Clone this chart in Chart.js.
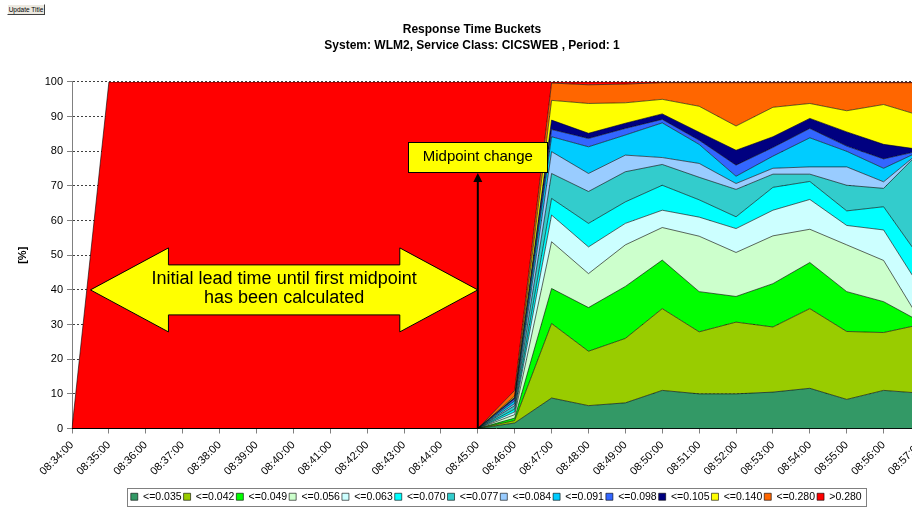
<!DOCTYPE html>
<html>
<head>
<meta charset="utf-8">
<title>Response Time Buckets</title>
<script src="https://cdn.jsdelivr.net/npm/chart.js@4.4.1/dist/chart.umd.min.js"></script>
<style>
  html, body { margin: 0; padding: 0; overflow: hidden; background: #fff; }
  #wrap { position: relative; width: 912px; height: 509px; overflow: hidden; }
  #rt-chart { position: absolute; left: 0; top: 0; }
  #update-title {
    position: absolute; left: 7px; top: 4px; width: 38px; height: 11px;
    padding: 0; margin: 0; font: 6.5px Arial, "Liberation Sans", sans-serif; line-height: 9px;
    white-space: nowrap; overflow: hidden;
    background: #ece9e0; color: #000; border: 1px solid; border-color: #fff #404040 #404040 #fff;
  }
</style>
</head>
<body>
<div id="wrap">
  <canvas id="rt-chart" width="950" height="512"></canvas>
  <button id="update-title">Update Title</button>
</div>
<script>
const timeLabels = ['08:34:00', '08:35:00', '08:36:00', '08:37:00', '08:38:00', '08:39:00', '08:40:00', '08:41:00',
  '08:42:00', '08:43:00', '08:44:00', '08:45:00', '08:46:00', '08:47:00', '08:48:00', '08:49:00',
  '08:50:00', '08:51:00', '08:52:00', '08:53:00', '08:54:00', '08:55:00', '08:56:00', '08:57:00'];

// percent of transactions per response time bucket (first 12 intervals: no midpoint yet)
const b035 = [0,0,0,0,0,0,0,0,0,0,0,0, 1.6, 8.8, 6.6, 7.4, 11.0, 10.0, 10.0, 10.5, 11.6, 8.4, 11.0, 10.2];
const b042 = [0,0,0,0,0,0,0,0,0,0,0,0, 0.7, 21.5, 15.7, 18.6, 23.6, 17.9, 20.7, 18.8, 23.0, 19.6, 16.7, 19.8];
const b049 = [0,0,0,0,0,0,0,0,0,0,0,0, 0.7, 10.1, 12.6, 15.0, 14.0, 11.6, 7.4, 12.5, 13.3, 11.5, 8.9, 0.8];
const b056 = [0,0,0,0,0,0,0,0,0,0,0,0, 1.0, 13.5, 9.8, 12.0, 9.4, 16.0, 12.7, 13.8, 9.6, 13.5, 11.9, 0.2];
const b063 = [0,0,0,0,0,0,0,0,0,0,0,0, 0.8, 7.7, 7.7, 6.2, 5.0, 5.5, 6.9, 7.4, 8.6, 5.6, 8.8, 9.5];
const b070 = [0,0,0,0,0,0,0,0,0,0,0,0, 0.8, 4.8, 6.8, 6.2, 7.2, 5.0, 3.4, 6.6, 5.2, 4.2, 6.7, 8.5];
const b077 = [0,0,0,0,0,0,0,0,0,0,0,0, 1.0, 7.2, 9.2, 8.7, 6.0, 6.5, 7.9, 3.8, 2.1, 7.4, 5.3, 31.0];
const b084 = [0,0,0,0,0,0,0,0,0,0,0,0, 0.6, 6.3, 5.2, 4.8, 2.0, 4.0, 1.7, 1.7, 2.1, 5.3, 1.9, 0.0];
const b091 = [0,0,0,0,0,0,0,0,0,0,0,0, 0.8, 4.3, 7.7, 5.8, 10.0, 5.5, 2.1, 3.5, 8.4, 4.5, 3.9, 0.1];
const b098 = [0,0,0,0,0,0,0,0,0,0,0,0, 0.6, 2.1, 2.4, 1.9, 1.0, 1.2, 3.2, 2.5, 2.7, 1.5, 2.7, 0.1];
const b105 = [0,0,0,0,0,0,0,0,0,0,0,0, 0.4, 2.7, 1.5, 1.5, 1.6, 2.3, 4.3, 3.1, 2.9, 4.1, 4.2, 0.3];
const b140 = [0,0,0,0,0,0,0,0,0,0,0,0, 0.4, 5.7, 8.6, 5.9, 4.2, 7.5, 7.0, 8.5, 4.3, 6.1, 11.5, 9.8];
const b280 = [0,0,0,0,0,0,0,0,0,0,0,0, 1.6, 5.0, 5.4, 5.4, 4.8, 6.8, 12.5, 7.1, 6.0, 8.1, 6.3, 9.5];
const bOver = [0,100,100,100,100,100,100,100,100,100,100,100, 89.0, 0.3, 0.8, 0.6, 0.2, 0.2, 0.2, 0.2, 0.2, 0.2, 0.2, 0.2];

const bucketNames = ['<=0.035', '<=0.042', '<=0.049', '<=0.056', '<=0.063', '<=0.070', '<=0.077',
  '<=0.084', '<=0.091', '<=0.098', '<=0.105', '<=0.140', '<=0.280', '>0.280'];
const bucketValues = [b035, b042, b049, b056, b063, b070, b077, b084, b091, b098, b105, b140, b280, bOver];
const bucketColors = ['#339966', '#99cc00', '#00ff00', '#ccffcc', '#ccffff', '#00ffff', '#33cccc',
  '#99ccff', '#00ccff', '#3366ff', '#000080', '#ffff00', '#ff6600', '#ff0000'];

const FONT = 'Arial, "Liberation Sans", sans-serif';
Chart.defaults.font.family = FONT;
Chart.defaults.color = '#000';

// the two call-outs drawn on top of the areas
const notesPlugin = {
  id: 'notes',
  afterDatasetsDraw(chart) {
    const ctx = chart.ctx;
    const x = chart.scales.x, y = chart.scales.y;

    // double headed block arrow
    const xl = x.getPixelForValue(0.5), xr = x.getPixelForValue(11), yc = y.getPixelForValue(40);
    const head = 78, headH = 42, shaftH = 25;
    ctx.save();
    ctx.beginPath();
    ctx.moveTo(xl, yc);
    ctx.lineTo(xl + head, yc - headH);
    ctx.lineTo(xl + head, yc - shaftH);
    ctx.lineTo(xr - head, yc - shaftH);
    ctx.lineTo(xr - head, yc - headH);
    ctx.lineTo(xr, yc);
    ctx.lineTo(xr - head, yc + headH);
    ctx.lineTo(xr - head, yc + shaftH);
    ctx.lineTo(xl + head, yc + shaftH);
    ctx.lineTo(xl + head, yc + headH);
    ctx.closePath();
    ctx.fillStyle = '#ffff00';
    ctx.fill();
    ctx.lineWidth = 1;
    ctx.strokeStyle = '#000';
    ctx.stroke();
    ctx.fillStyle = '#000';
    ctx.font = '18px ' + FONT;
    ctx.textAlign = 'center';
    ctx.textBaseline = 'middle';
    ctx.fillText('Initial lead time until first midpoint', (xl + xr) / 2, yc - 10.5);
    ctx.fillText('has been calculated', (xl + xr) / 2, yc + 8.5);

    // vertical arrow + "Midpoint change" box
    const cx = x.getPixelForValue(11);
    const boxBottom = y.getPixelForValue(74);
    const boxW = 139, boxH = 30;
    ctx.beginPath();
    ctx.lineWidth = 2;
    ctx.moveTo(cx, y.getPixelForValue(0));
    ctx.lineTo(cx, boxBottom + 8);
    ctx.stroke();
    ctx.beginPath();
    ctx.moveTo(cx, boxBottom + 1);
    ctx.lineTo(cx - 4.5, boxBottom + 10);
    ctx.lineTo(cx + 4.5, boxBottom + 10);
    ctx.closePath();
    ctx.fill();

    ctx.fillStyle = '#ffff00';
    ctx.fillRect(cx - boxW / 2, boxBottom - boxH, boxW, boxH);
    ctx.lineWidth = 1;
    ctx.strokeRect(Math.round(cx - boxW / 2) + 0.5, Math.round(boxBottom - boxH) + 0.5, boxW, boxH);
    ctx.fillStyle = '#000';
    ctx.font = '15px ' + FONT;
    ctx.fillText('Midpoint change', cx, boxBottom - boxH / 2);
    ctx.restore();
  }
};

// thin frame around the legend like the spreadsheet legend
const legendFrame = {
  id: 'legendFrame',
  afterDraw(chart) {
    const boxes = chart.legend && chart.legend.legendHitBoxes;
    if (!boxes || !boxes.length) return;
    const left = Math.min(...boxes.map(b => b.left)) - 4;
    const right = Math.max(...boxes.map(b => b.left + b.width)) + 4;
    const top = boxes[0].top - 3.5;
    const bottom = boxes[0].top + boxes[0].height + 3.5;
    const ctx = chart.ctx;
    ctx.save();
    ctx.strokeStyle = '#808080';
    ctx.lineWidth = 1;
    ctx.strokeRect(Math.round(left) + 0.5, Math.round(top) + 0.5, Math.round(right - left), Math.round(bottom - top));
    ctx.restore();
  }
};

const datasets = bucketValues.map((vals, i) => ({
  label: bucketNames[i],
  data: vals,
  backgroundColor: bucketColors[i],
  borderColor: 'rgba(0, 0, 0, 0.6)',
  borderWidth: 1,
  fill: i === 0 ? 'origin' : '-1',
  pointRadius: 0,
  tension: 0
}));

const ctx = document.getElementById('rt-chart').getContext('2d');
const rtChart = new Chart(ctx, {
  type: 'line',
  data: { labels: timeLabels, datasets: datasets },
  plugins: [notesPlugin, legendFrame],
  options: {
    responsive: false,
    animation: false,
    layout: { padding: { left: 0, right: 6, top: 22, bottom: 0 } },
    plugins: {
      title: {
        display: true,
        text: ['Response Time Buckets', 'System: WLM2, Service Class: CICSWEB , Period: 1'],
        font: { size: 12, weight: 'bold', lineHeight: 1.3333 },
        color: '#000',
        padding: { top: 0, bottom: 28 }
      },
      legend: {
        position: 'bottom',
        fullSize: false,
        labels: { boxWidth: 7, boxHeight: 7, padding: 2, font: { size: 10.5 }, color: '#000' }
      },
      tooltip: { enabled: false }
    },
    scales: {
      x: {
        grid: { drawOnChartArea: false, tickLength: 5, color: '#808080' },
        border: { color: '#000' },
        ticks: { autoSkip: false, minRotation: 45, maxRotation: 45, padding: 5, font: { size: 11 }, color: '#000' },
        afterFit(scale) {
          scale.height = 61;
          scale.paddingRight = 29.5;   // last minute sits just past the window edge
        }
      },
      y: {
        stacked: true,
        min: 0,
        max: 100,
        ticks: { stepSize: 10, padding: 4, font: { size: 11 }, color: '#000' },
        grid: { color: '#404040', tickColor: '#808080', tickLength: 5, tickBorderDash: [] },
        border: { color: '#808080', dash: [2, 2] },
        title: { display: true, text: '[%]', font: { size: 11, weight: 'bold' }, padding: { top: 16, bottom: 0 } },
        afterFit(scale) {
          scale.width = 72;
        }
      }
    }
  }
});
</script>
</body>
</html>
